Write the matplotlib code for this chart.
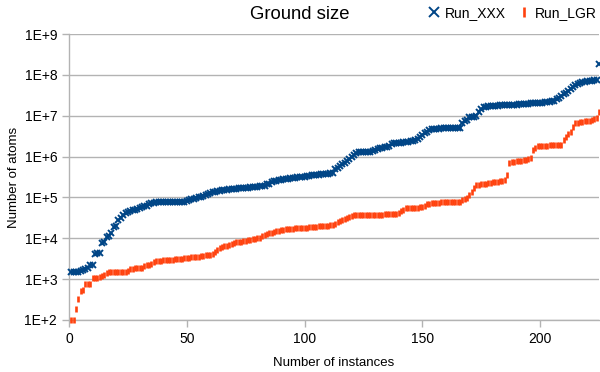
import numpy as np
import matplotlib
matplotlib.use("Agg")
import matplotlib.pyplot as plot
from matplotlib.ticker import FixedLocator, FuncFormatter

plot.rcParams["font.family"] = ["Liberation Sans", "DejaVu Sans"]

# log10 of the number of atoms, instance 1..225
run_xxx_log = [
  3.18, 3.18, 3.18, 3.18, 3.19, 3.22, 3.26, 3.28, 3.34, 3.35,
  3.62, 3.63, 3.64, 3.88, 3.90, 4.04, 4.05, 4.12, 4.28, 4.30,
  4.45, 4.50, 4.58, 4.62, 4.64, 4.66, 4.68, 4.70, 4.72, 4.74,
  4.77, 4.78, 4.80, 4.83, 4.86, 4.87, 4.88, 4.88, 4.88, 4.88,
  4.88, 4.88, 4.88, 4.88, 4.88, 4.88, 4.88, 4.88, 4.89, 4.92,
  4.94, 4.96, 4.97, 4.99, 5.01, 5.02, 5.04, 5.06, 5.09, 5.11,
  5.13, 5.14, 5.15, 5.16, 5.17, 5.18, 5.19, 5.20, 5.20, 5.21,
  5.21, 5.22, 5.22, 5.23, 5.24, 5.24, 5.25, 5.25, 5.26, 5.26,
  5.27, 5.28, 5.29, 5.32, 5.34, 5.37, 5.39, 5.41, 5.42, 5.43,
  5.44, 5.45, 5.46, 5.47, 5.47, 5.48, 5.49, 5.49, 5.50, 5.51,
  5.52, 5.53, 5.54, 5.55, 5.55, 5.56, 5.57, 5.57, 5.58, 5.58,
  5.59, 5.59, 5.70, 5.73, 5.77, 5.82, 5.84, 5.88, 5.93, 5.98,
  6.04, 6.09, 6.10, 6.10, 6.10, 6.10, 6.10, 6.11, 6.14, 6.17,
  6.19, 6.21, 6.22, 6.23, 6.24, 6.27, 6.31, 6.33, 6.34, 6.34,
  6.34, 6.35, 6.35, 6.36, 6.37, 6.39, 6.41, 6.43, 6.48, 6.54,
  6.58, 6.61, 6.64, 6.67, 6.68, 6.68, 6.68, 6.69, 6.69, 6.69,
  6.69, 6.69, 6.70, 6.70, 6.70, 6.70, 6.83, 6.86, 6.90, 6.97,
  6.98, 6.98, 7.00, 7.08, 7.17, 7.21, 7.22, 7.23, 7.23, 7.24,
  7.24, 7.24, 7.25, 7.25, 7.25, 7.26, 7.26, 7.26, 7.27, 7.27,
  7.28, 7.28, 7.28, 7.29, 7.29, 7.30, 7.30, 7.31, 7.31, 7.32,
  7.32, 7.33, 7.33, 7.34, 7.35, 7.37, 7.40, 7.44, 7.48, 7.52,
  7.56, 7.60, 7.66, 7.71, 7.75, 7.78, 7.80, 7.82, 7.83, 7.84,
  7.85, 7.86, 7.87, 7.88, 8.27,
]

run_lgr_log = [
  2.00, 2.00, 2.28, 2.52, 2.72, 2.73, 2.88, 2.88, 2.88, 3.03,
  3.04, 3.04, 3.05, 3.08, 3.10, 3.16, 3.17, 3.17, 3.17, 3.17,
  3.17, 3.18, 3.18, 3.18, 3.20, 3.25, 3.26, 3.27, 3.27, 3.27,
  3.27, 3.33, 3.35, 3.35, 3.36, 3.41, 3.44, 3.45, 3.45, 3.46,
  3.46, 3.47, 3.47, 3.48, 3.49, 3.49, 3.50, 3.50, 3.51, 3.52,
  3.52, 3.53, 3.54, 3.54, 3.55, 3.56, 3.57, 3.58, 3.59, 3.60,
  3.62, 3.66, 3.72, 3.76, 3.78, 3.80, 3.82, 3.84, 3.86, 3.88,
  3.90, 3.91, 3.92, 3.93, 3.94, 3.96, 3.97, 3.98, 3.99, 4.00,
  4.01, 4.05, 4.08, 4.10, 4.12, 4.14, 4.16, 4.18, 4.19, 4.20,
  4.21, 4.22, 4.22, 4.23, 4.23, 4.24, 4.24, 4.25, 4.25, 4.26,
  4.26, 4.27, 4.27, 4.28, 4.28, 4.29, 4.29, 4.30, 4.31, 4.31,
  4.32, 4.33, 4.36, 4.40, 4.43, 4.45, 4.48, 4.50, 4.52, 4.54,
  4.56, 4.57, 4.57, 4.57, 4.57, 4.57, 4.58, 4.58, 4.58, 4.58,
  4.58, 4.58, 4.58, 4.59, 4.59, 4.59, 4.59, 4.59, 4.59, 4.63,
  4.67, 4.70, 4.73, 4.73, 4.74, 4.74, 4.75, 4.75, 4.76, 4.77,
  4.80, 4.83, 4.85, 4.86, 4.87, 4.87, 4.87, 4.88, 4.88, 4.88,
  4.88, 4.89, 4.89, 4.89, 4.90, 4.90, 4.93, 4.96, 4.99, 5.06,
  5.14, 5.22, 5.30, 5.31, 5.32, 5.33, 5.34, 5.35, 5.36, 5.37,
  5.38, 5.38, 5.39, 5.40, 5.42, 5.55, 5.84, 5.86, 5.87, 5.88,
  5.89, 5.90, 5.91, 5.92, 5.93, 5.96, 6.16, 6.22, 6.27, 6.27,
  6.27, 6.27, 6.27, 6.28, 6.28, 6.28, 6.28, 6.28, 6.28, 6.40,
  6.49, 6.55, 6.61, 6.72, 6.81, 6.83, 6.84, 6.85, 6.86, 6.87,
  6.88, 6.90, 6.92, 6.94, 7.10,
]

y_tick_exponents = [2, 3, 4, 5, 6, 7, 8, 9]
x_ticks = [0, 50, 100, 150, 200]

grey = "#b3b3b3"
blue = "#004586"
orange = "#ff420e"

instances_xxx = np.arange(1, len(run_xxx_log) + 1)
instances_lgr = np.arange(1, len(run_lgr_log) + 1)

figure = plot.figure(figsize=(6.0, 3.72), dpi=100)
axes = figure.add_axes([0.115, 0.1398, 0.8833, 0.7688])

axes.plot(instances_xxx, 10 ** np.array(run_xxx_log), ls="none", marker="x",
          markersize=4.5, markeredgewidth=1.4, color=blue, label="Run_XXX",
          clip_on=False, zorder=3)
axes.plot(instances_lgr, 10 ** np.array(run_lgr_log), ls="none", marker="|",
          markersize=5.0, markeredgewidth=1.9, color=orange, label="Run_LGR",
          clip_on=False, zorder=3)

axes.set_yscale("log")
axes.set_ylim(1e2, 1e9)
axes.set_xlim(0, 225)
axes.yaxis.set_major_locator(FixedLocator([10.0 ** e for e in y_tick_exponents]))
axes.yaxis.set_minor_locator(FixedLocator([]))
axes.yaxis.set_major_formatter(FuncFormatter(lambda v, pos: "1E+%d" % round(np.log10(v))))
axes.set_xticks(x_ticks)

axes.grid(axis="y", color=grey, linewidth=1.0)
axes.set_axisbelow(True)
for side in ("top", "right"):
  axes.spines[side].set_visible(False)
for side in ("left", "bottom"):
  axes.spines[side].set_color(grey)
  axes.spines[side].set_linewidth(1.0)
axes.tick_params(axis="both", colors=grey, labelcolor="black", labelsize=10,
                 length=5, width=1.0)

axes.set_xlabel("Number of instances", fontsize=9.5, labelpad=8)
axes.set_ylabel("Number of atoms", fontsize=9.5, labelpad=3)
figure.text(0.5, 0.962, "Ground size", ha="center", va="center", fontsize=13.3)

figure.legend(loc="upper right", bbox_to_anchor=(1.016, 1.018), ncol=2,
              frameon=False, fontsize=10, handlelength=0.8, handletextpad=0.4,
              columnspacing=0.9, markerscale=1.5)

plot.savefig("out.png", dpi=100)
plot.close()
